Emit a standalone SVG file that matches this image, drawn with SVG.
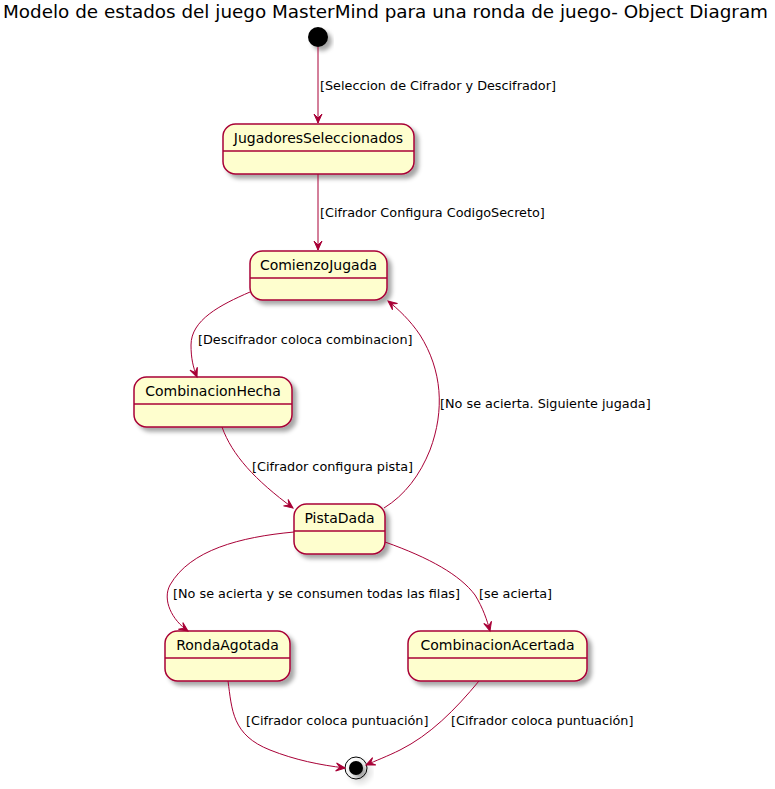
<svg xmlns="http://www.w3.org/2000/svg" width="775" height="789" viewBox="0 0 775 789">
<defs>
<filter id="sh" x="-20%" y="-20%" width="150%" height="160%">
<feGaussianBlur in="SourceAlpha" stdDeviation="2" result="b"/>
<feOffset in="b" dx="4" dy="4" result="o"/>
<feFlood flood-color="#000" flood-opacity="0.35"/>
<feComposite in2="o" operator="in" result="s"/>
<feMerge><feMergeNode in="s"/><feMergeNode in="SourceGraphic"/></feMerge>
</filter>
<marker id="arr" markerUnits="userSpaceOnUse" markerWidth="12" markerHeight="12" viewBox="-10 -6 12 12" refX="0" refY="0" orient="auto">
<path d="M0,0 L-9,-4 L-5,0 L-9,4 Z" fill="#A80036" stroke="#A80036" stroke-width="1"/>
</marker>
</defs>
<style>
.st{fill:#FEFECE;stroke:#A80036;stroke-width:1.5}
.dv{stroke:#A80036;stroke-width:1.5}
.nm{font-family:"DejaVu Sans",sans-serif;font-size:14px;fill:#000;text-anchor:middle}
.lb{font-family:"DejaVu Sans",sans-serif;font-size:12.8px;fill:#000}
.ed{fill:none;stroke:#A80036;stroke-width:1;marker-end:url(#arr)}
</style>
<rect width="775" height="789" fill="#fff"/>
<text x="3" y="18" font-family="DejaVu Sans, sans-serif" font-size="18.3" textLength="765" lengthAdjust="spacingAndGlyphs">Modelo de estados del juego MasterMind para una ronda de juego- Object Diagram</text>

<g id="start"><circle cx="318" cy="37" r="10" fill="#000" filter="url(#sh)"/></g>

<g id="JugadoresSeleccionados">
<rect class="st" x="223" y="124" width="191" height="50" rx="12.5" filter="url(#sh)"/>
<line class="dv" x1="223" y1="151" x2="414" y2="151"/>
<text class="nm" x="318.5" y="143">JugadoresSeleccionados</text>
</g>
<g id="ComienzoJugada">
<rect class="st" x="250" y="251" width="137" height="49" rx="12.5" filter="url(#sh)"/>
<line class="dv" x1="250" y1="278" x2="387" y2="278"/>
<text class="nm" x="318.5" y="270">ComienzoJugada</text>
</g>
<g id="CombinacionHecha">
<rect class="st" x="134" y="377" width="158" height="50" rx="12.5" filter="url(#sh)"/>
<line class="dv" x1="134" y1="404" x2="292" y2="404"/>
<text class="nm" x="213" y="396">CombinacionHecha</text>
</g>
<g id="PistaDada">
<rect class="st" x="294" y="504" width="91" height="50" rx="12.5" filter="url(#sh)"/>
<line class="dv" x1="294" y1="531" x2="385" y2="531"/>
<text class="nm" x="339.5" y="523">PistaDada</text>
</g>
<g id="RondaAgotada">
<rect class="st" x="165" y="631" width="125" height="50" rx="12.5" filter="url(#sh)"/>
<line class="dv" x1="165" y1="658" x2="290" y2="658"/>
<text class="nm" x="227.5" y="650">RondaAgotada</text>
</g>
<g id="CombinacionAcertada">
<rect class="st" x="408" y="631" width="179" height="50" rx="12.5" filter="url(#sh)"/>
<line class="dv" x1="408" y1="658" x2="587" y2="658"/>
<text class="nm" x="497.5" y="650">CombinacionAcertada</text>
</g>
<g id="end" filter="url(#sh)">
<circle cx="356" cy="768" r="11" fill="none" stroke="#000" stroke-width="1"/>
<circle cx="356" cy="768" r="7" fill="#000"/>
</g>

<g id="connectors">
<path class="ed" d="M318,47 L318,123"/>
<path class="ed" d="M318,174 L318,250"/>
<path class="ed" d="M250,292 C220,305 191,320 191,345 C191,358 193,367 197,377"/>
<path class="ed" d="M222,427 C232,455 255,480 293,508"/>
<path class="ed" d="M384,508 C405,495 420,475 430,450 C445,410 442,370 420,335 C410,320 398,309 388,301"/>
<path class="ed" d="M294,532 C240,537 190,550 170,585 C162,600 172,620 188,631"/>
<path class="ed" d="M385,542 C430,558 460,575 475,595 C483,608 487,620 490,631"/>
<path class="ed" d="M228,681 C232,710 232,735 270,750 C295,760 320,765 345,768"/>
<path class="ed" d="M479,681 C455,710 430,735 400,750 C388,756 375,761 366,765"/>
</g>
<g id="labels">
<text class="lb" x="320" y="90">[Seleccion de Cifrador y Descifrador]</text>
<text class="lb" x="320" y="217">[Cifrador Configura CodigoSecreto]</text>
<text class="lb" x="198" y="344">[Descifrador coloca combinacion]</text>
<text class="lb" x="252" y="471">[Cifrador configura pista]</text>
<text class="lb" x="440" y="408">[No se acierta. Siguiente jugada]</text>
<text class="lb" x="173" y="598">[No se acierta y se consumen todas las filas]</text>
<text class="lb" x="479" y="598">[se acierta]</text>
<text class="lb" x="246" y="725">[Cifrador coloca puntuación]</text>
<text class="lb" x="451" y="725">[Cifrador coloca puntuación]</text>
</g>
</svg>
